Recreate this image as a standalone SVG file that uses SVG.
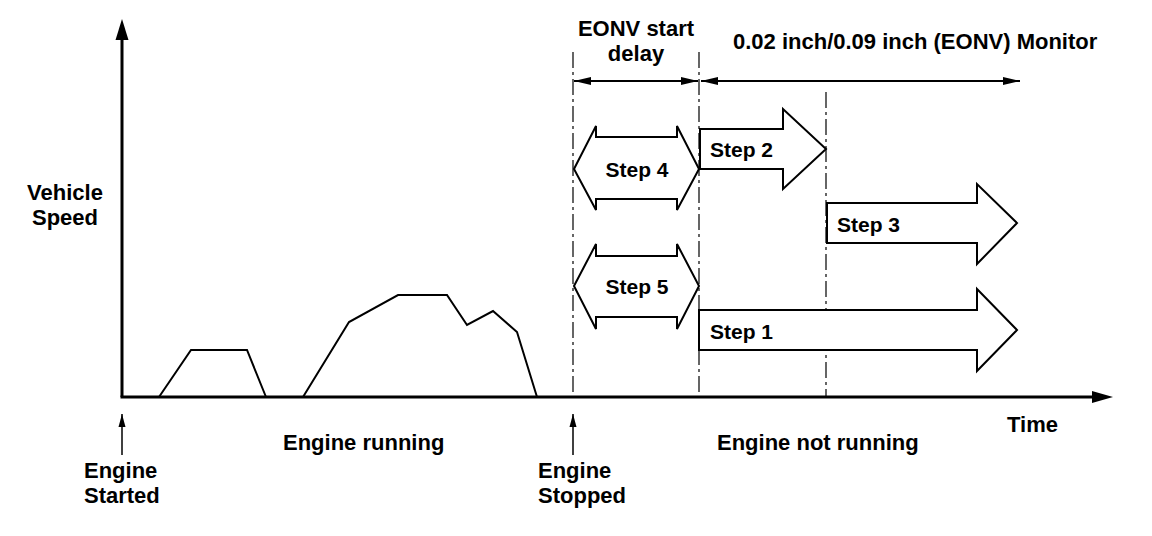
<svg xmlns="http://www.w3.org/2000/svg" width="1152" height="536" viewBox="0 0 1152 536">
<style>
text{font-family:"Liberation Sans",Arial,sans-serif;font-weight:bold;font-size:22px;fill:#000}
text.s{font-size:21px}
.ax{stroke:#000;stroke-width:3;fill:none}
.cv{stroke:#000;stroke-width:2;fill:none;stroke-linejoin:miter}
.sh{stroke:#000;stroke-width:2;fill:#fff;stroke-linejoin:miter}
.dd{stroke:#000;stroke-width:1.2;fill:none;stroke-dasharray:16 4 3 4}
.dim{stroke:#000;stroke-width:2;fill:none}
.mk{stroke:#000;stroke-width:1.5;fill:none}
.c{text-anchor:middle}
</style>
<defs>
<marker id="ah" markerWidth="18" markerHeight="10" refX="17" refY="5" orient="auto-start-reverse" markerUnits="userSpaceOnUse">
<path d="M0,1 L17,5 L0,9 Z" fill="#000"/>
</marker>
<marker id="sm" markerWidth="14" markerHeight="8" refX="13" refY="4" orient="auto" markerUnits="userSpaceOnUse">
<path d="M0,0.5 L13,4 L0,7.5 Z" fill="#000"/>
</marker>
</defs>

<g id="axes">
<line class="ax" x1="122" y1="397" x2="122" y2="38"/>
<path d="M122,19 L115.5,40 L128.5,40 Z" fill="#000"/>
<line class="ax" x1="120.5" y1="397" x2="1095" y2="397"/>
<path d="M1113,397 L1092,391 L1092,403 Z" fill="#000"/>
</g>

<g id="speed-curve">
<polyline class="cv" points="159,397 191,350 247,350 266,397"/>
<polyline class="cv" points="303,397 349,322 398,295 447,295 467,325 493,311 517,332 537,397"/>
</g>

<g id="connectors">
<line class="dd" x1="573" y1="52" x2="573" y2="397"/>
<line class="dd" x1="699" y1="52" x2="699" y2="397"/>
<line class="dd" x1="826" y1="92" x2="826" y2="397"/>
<line class="dim" x1="574" y1="81" x2="698" y2="81" marker-start="url(#ah)" marker-end="url(#ah)"/>
<line class="dim" x1="701" y1="81" x2="1020" y2="81" marker-start="url(#ah)" marker-end="url(#ah)"/>
<line class="mk" x1="122" y1="455" x2="122" y2="414" marker-end="url(#sm)"/>
<line class="mk" x1="573" y1="455" x2="573" y2="414" marker-end="url(#sm)"/>
</g>

<g id="step4">
<polygon class="sh" points="574,169 596,126 596,137 677,137 677,126 699,169 677,210 677,199 596,199 596,210"/>
<text class="c s" x="637" y="177">Step 4</text>
</g>
<g id="step5">
<polygon class="sh" points="574,286 596,244 596,256 677,256 677,244 699,286 677,329 677,317 596,317 596,329"/>
<text class="c s" x="637" y="294">Step 5</text>
</g>
<g id="step2">
<polygon class="sh" points="700,129 783,129 783,109 826,149 783,189 783,169 700,169"/>
<text class="s" x="710" y="157">Step 2</text>
</g>
<g id="step3">
<polygon class="sh" points="827,203 977,203 977,184 1017,223 977,264 977,243 827,243"/>
<text class="s" x="837" y="232">Step 3</text>
</g>
<g id="step1">
<polygon class="sh" points="699,310 977,310 977,289 1017,330 977,371 977,350 699,350"/>
<text class="s" x="710" y="339">Step 1</text>
</g>

<g id="labels">
<text class="c" x="65" y="200">Vehicle</text>
<text class="c" x="65" y="225">Speed</text>
<text class="c" x="636" y="36">EONV start</text>
<text class="c" x="636" y="61">delay</text>
<text x="733" y="49">0.02 inch/0.09 inch (EONV) Monitor</text>
<text x="1007" y="432">Time</text>
<text x="283" y="450">Engine running</text>
<text x="717" y="450">Engine not running</text>
<text x="84" y="478">Engine</text>
<text x="84" y="503">Started</text>
<text x="538" y="478">Engine</text>
<text x="538" y="503">Stopped</text>
</g>
</svg>
